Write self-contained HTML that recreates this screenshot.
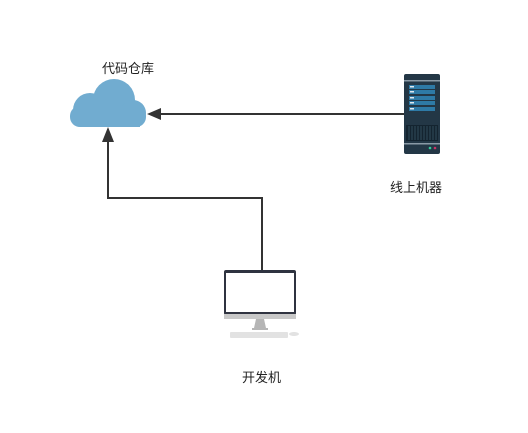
<!DOCTYPE html>
<html><head><meta charset="utf-8"><style>
body{margin:0;background:#fff;width:528px;height:428px;overflow:hidden}
text{font-family:"Liberation Sans","Noto Sans CJK SC",sans-serif;font-size:13px;fill:#222}
</style></head><body>
<svg width="528" height="428" viewBox="0 0 528 428">
<!-- cloud -->
<g fill="#71acd0">
<circle cx="90" cy="110" r="17"/>
<circle cx="114" cy="100" r="21"/>
<circle cx="133" cy="113" r="13"/>
<rect x="70" y="106" width="76" height="21" rx="10"/>
<rect x="80" y="108" width="60" height="19"/>
</g>
<text x="102" y="73">代码仓库</text>
<!-- connectors -->
<path d="M404 114 H160" stroke="#333" stroke-width="2" fill="none"/>
<path d="M147 114 L161 108 L161 120 Z" fill="#333"/>
<path d="M262 270 V198 H108 V140" stroke="#333" stroke-width="2" fill="none"/>
<path d="M108 127 L102 142 L114 142 Z" fill="#333"/>
<!-- server -->
<rect x="404" y="74" width="36" height="80" rx="2" fill="#233746"/>
<rect x="404" y="80" width="36" height="1.5" fill="#8a9aa6"/>
<rect x="404" y="143" width="36" height="1.5" fill="#8a9aa6"/>
<g fill="#2e7aa6">
<rect x="409" y="85" width="26" height="4"/><rect x="409" y="90" width="26" height="4"/>
<rect x="409" y="96" width="26" height="4"/><rect x="409" y="101" width="26" height="4"/>
<rect x="409" y="107" width="26" height="4"/>
</g>
<g fill="#dfe8ef">
<rect x="410" y="86" width="4" height="1.5"/><rect x="410" y="91" width="4" height="1.5"/>
<rect x="410" y="97" width="4" height="1.5"/><rect x="410" y="102" width="4" height="1.5"/>
<rect x="410" y="108" width="4" height="1.5"/>
</g>
<rect x="406" y="125" width="32" height="16" fill="#142430"/>
<g stroke="#3a5566" stroke-width="0.8">
<path d="M409 126V140M412 126V140M415 126V140M418 126V140M421 126V140M424 126V140M427 126V140M430 126V140M433 126V140M436 126V140"/>
</g>
<circle cx="430" cy="148" r="1.3" fill="#3c9"/><circle cx="435" cy="148" r="1.3" fill="#c36"/>
<text x="390" y="192">线上机器</text>
<!-- monitor -->
<rect x="224" y="270" width="72" height="45" rx="2" fill="#2f3340"/>
<rect x="226" y="273" width="68" height="39" fill="#fff"/>
<rect x="224" y="314" width="72" height="5" fill="#c8c8c8"/>
<path d="M256 319 H264 L266 328 H254 Z" fill="#b5b5b5"/>
<rect x="252" y="328" width="16" height="2" fill="#b5b5b5"/>
<rect x="230" y="332" width="58" height="6" rx="1" fill="#e2e2e2"/>
<ellipse cx="294" cy="334" rx="5" ry="2" fill="#e2e2e2"/>
<text x="242" y="382">开发机</text>
</svg>
</body></html>
